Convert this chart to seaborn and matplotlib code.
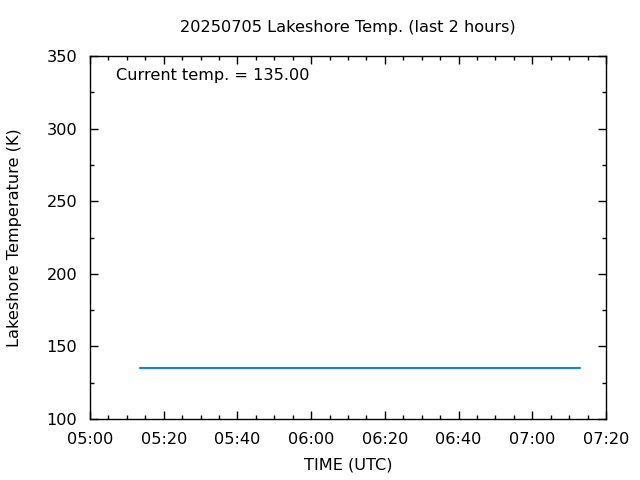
import matplotlib
matplotlib.use("Agg")
import matplotlib.pyplot as plt
import matplotlib.dates as mdates
from matplotlib.ticker import MultipleLocator
import seaborn as sns
import pandas as pd

times = ["2025-07-05 05:13:30", "2025-07-05 07:13:00"]
temps = [135.0, 135.0]
title = "20250705 Lakeshore Temp. (last 2 hours)"
current_label = "Current temp. = 135.00"

sns.set_style("ticks")
plt.rcParams['font.family'] = ['DejaVu Sans']
plt.rcParams['text.color'] = 'black'
plt.rcParams['axes.labelcolor'] = 'black'

df = pd.DataFrame({"time": pd.to_datetime(times), "temp": temps})

FS = 11.6
fig = plt.figure(figsize=(6.4, 4.8), dpi=100)
ax = fig.add_axes([90/640, 61/480, 516/640, 363/480])
sns.lineplot(data=df, x="time", y="temp", ax=ax, color="#0a82f0", linewidth=1.5)

ax.set_xlim(pd.Timestamp("2025-07-05 05:00"), pd.Timestamp("2025-07-05 07:20"))
ax.set_ylim(100, 350)
ax.xaxis.set_major_locator(mdates.MinuteLocator(byminute=[0, 20, 40]))
ax.xaxis.set_minor_locator(mdates.MinuteLocator(byminute=range(0, 60, 5)))
ax.xaxis.set_major_formatter(mdates.DateFormatter("%H:%M"))
ax.yaxis.set_major_locator(MultipleLocator(50))
ax.yaxis.set_minor_locator(MultipleLocator(25))
ax.tick_params(which="both", direction="in", top=True, right=True, left=True, bottom=True,
               colors="black", labelsize=FS, width=1)
ax.tick_params(which="major", length=6)
ax.tick_params(axis="x", which="major", pad=9)
ax.tick_params(axis="y", which="major", pad=9)
ax.tick_params(which="minor", length=3)
for s in ax.spines.values():
    s.set_visible(True)
    s.set_color("black")
    s.set_linewidth(1)
ax.set_xlabel("TIME (UTC)", fontsize=FS, labelpad=8)
ax.set_ylabel("Lakeshore Temperature (K)", fontsize=FS, labelpad=18)
ax.set_title(title, fontsize=FS, pad=17)
ax.text(0.05, 0.968, current_label, transform=ax.transAxes, fontsize=FS, va="top", ha="left")
fig.savefig("out.png", dpi=100)
